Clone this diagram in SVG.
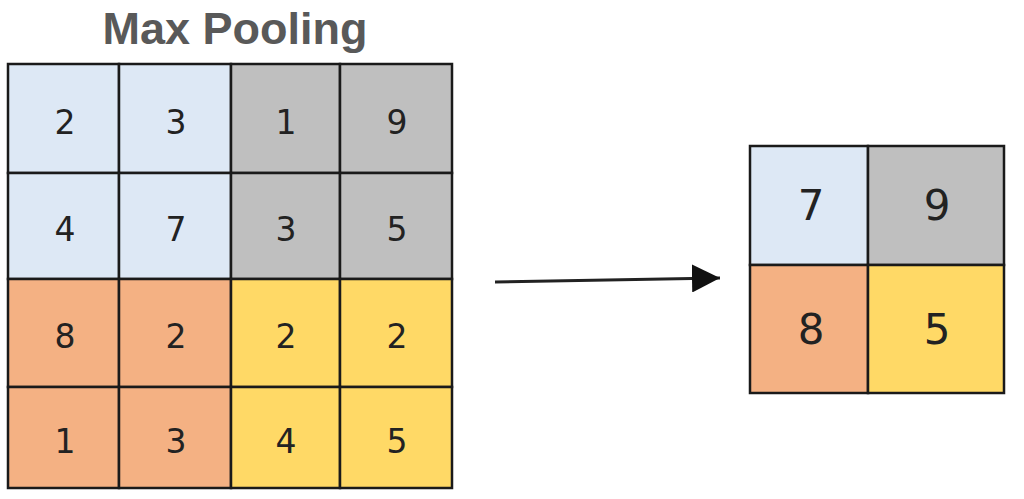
<svg xmlns="http://www.w3.org/2000/svg" width="1024" height="499" viewBox="0 0 1024 499">
<defs>
<style>
.b{fill:#DDE8F5}.g{fill:#BFBFBF}.o{fill:#F4B183}.y{fill:#FFD966}
.c{stroke:#1a1a1a;stroke-width:2.5}
.n{font-family:"DejaVu Sans",sans-serif;font-size:33px;fill:#222;text-anchor:middle}
.m{font-family:"DejaVu Sans",sans-serif;font-size:42px;fill:#222;text-anchor:middle}
.t{font-family:"Liberation Sans",Arial,sans-serif;font-weight:bold;font-size:45px;fill:#595959;text-anchor:middle}
</style>
<marker id="ah" markerWidth="28" markerHeight="28" refX="28" refY="14" orient="auto" markerUnits="userSpaceOnUse" viewBox="0 0 28 28">
<path d="M0,0 L28,14 L0,28 z" fill="#111"/>
</marker>
</defs>
<rect width="1024" height="499" fill="#fff"/>
<text id="title" class="t" x="235" y="44">Max Pooling</text>
<g id="input">
<rect class="b c" x="8" y="64" width="111" height="109"/>
<rect class="b c" x="119" y="64" width="112" height="109"/>
<rect class="g c" x="231" y="64" width="109" height="109"/>
<rect class="g c" x="340" y="64" width="112" height="109"/>
<rect class="b c" x="8" y="173" width="111" height="106"/>
<rect class="b c" x="119" y="173" width="112" height="106"/>
<rect class="g c" x="231" y="173" width="109" height="106"/>
<rect class="g c" x="340" y="173" width="112" height="106"/>
<rect class="o c" x="8" y="279" width="111" height="108"/>
<rect class="o c" x="119" y="279" width="112" height="108"/>
<rect class="y c" x="231" y="279" width="109" height="108"/>
<rect class="y c" x="340" y="279" width="112" height="108"/>
<rect class="o c" x="8" y="387" width="111" height="101"/>
<rect class="o c" x="119" y="387" width="112" height="101"/>
<rect class="y c" x="231" y="387" width="109" height="101"/>
<rect class="y c" x="340" y="387" width="112" height="101"/>
<text class="n" x="65" y="134">2</text><text class="n" x="176" y="134">3</text><text class="n" x="286" y="134">1</text><text class="n" x="397" y="134">9</text>
<text class="n" x="65" y="241">4</text><text class="n" x="176" y="241">7</text><text class="n" x="286" y="241">3</text><text class="n" x="397" y="241">5</text>
<text class="n" x="65" y="348">8</text><text class="n" x="176" y="348">2</text><text class="n" x="286" y="348">2</text><text class="n" x="397" y="348">2</text>
<text class="n" x="65" y="453">1</text><text class="n" x="176" y="453">3</text><text class="n" x="286" y="453">4</text><text class="n" x="397" y="453">5</text>
</g>
<g id="connectors">
<line x1="495" y1="282" x2="720" y2="278" stroke="#222" stroke-width="3" marker-end="url(#ah)"/>
</g>
<g id="output">
<rect class="b c" x="750" y="146" width="118" height="119"/>
<rect class="g c" x="868" y="146" width="136" height="119"/>
<rect class="o c" x="750" y="265" width="118" height="128"/>
<rect class="y c" x="868" y="265" width="136" height="128"/>
<text class="m" x="811" y="220">7</text><text class="m" x="937" y="220">9</text>
<text class="m" x="811" y="344">8</text><text class="m" x="937" y="344">5</text>
</g>
</svg>
